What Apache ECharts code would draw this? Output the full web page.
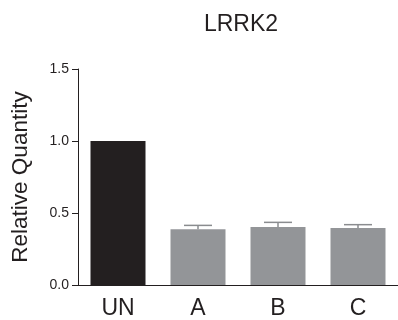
<!DOCTYPE html>
<html>
<head>
<meta charset="utf-8">
<script src="https://cdn.jsdelivr.net/npm/echarts@6/dist/echarts.min.js"></script>
<style>
  html, body { margin: 0; padding: 0; background: #ffffff; }
  #chart { width: 398px; height: 320px; }
</style>
</head>
<body>
<div id="chart"></div>
<script>
// Relative quantity of LRRK2 per condition (mean and upper error)
const categories = ['UN', 'A', 'B', 'C'];
const means = [1.0, 0.388, 0.403, 0.396];
const errors = [0, 0.026, 0.032, 0.023];
const yTicks = [0, 0.5, 1.0, 1.5];
const chartTitle = 'LRRK2';

const FONT = '"Liberation Sans", Arial, Helvetica, sans-serif';
const INK = '#231f20';
const BAR_DARK = '#231f20';
const BAR_GRAY = '#939598';
const ERR_COLOR = '#8a8c8f';

const chart = echarts.init(document.getElementById('chart'), null, { renderer: 'canvas' });

const errorData = means.map((m, i) => [i, m, m + errors[i]]);

chart.setOption({
  animation: false,
  backgroundColor: '#ffffff',
  graphic: [
    {
      type: 'text',
      x: 241,
      y: 25,
      style: {
        text: chartTitle,
        fontFamily: FONT,
        fontSize: 23,
        fill: INK,
        align: 'center',
        verticalAlign: 'middle'
      }
    }
  ],
  grid: { left: 78, right: -6.8, top: 69, bottom: 34.5, containLabel: false },
  xAxis: {
    type: 'category',
    data: categories,
    axisLine: { show: true, lineStyle: { color: INK, width: 1 } },
    axisTick: { show: false },
    axisLabel: { fontFamily: FONT, fontSize: 23, color: INK, margin: 12 }
  },
  yAxis: {
    type: 'value',
    min: yTicks[0],
    max: yTicks[yTicks.length - 1],
    interval: 0.5,
    name: 'Relative Quantity',
    nameLocation: 'middle',
    nameGap: 46,
    nameRotate: 90,
    nameTextStyle: { fontFamily: FONT, fontSize: 22.5, color: INK },
    splitLine: { show: false },
    axisLine: { show: true, lineStyle: { color: INK, width: 1 } },
    axisTick: { show: true, inside: false, length: 6, lineStyle: { color: INK, width: 1 } },
    axisLabel: {
      fontFamily: FONT, fontSize: 14, color: INK, margin: 9,
      formatter: v => v.toFixed(1)
    }
  },
  series: [
    {
      type: 'bar',
      data: means,
      barWidth: 55,
      itemStyle: {
        color: p => (p.dataIndex === 0 ? BAR_DARK : BAR_GRAY)
      },
      z: 2
    },
    {
      type: 'custom',
      data: errorData,
      z: 3,
      renderItem: (params, api) => {
        const idx = api.value(0);
        const lo = api.coord([idx, api.value(1)]);
        const hi = api.coord([idx, api.value(2)]);
        if (Math.abs(lo[1] - hi[1]) < 0.5) return null;
        const half = 14;
        const style = { stroke: ERR_COLOR, lineWidth: 1.5, fill: null };
        return {
          type: 'group',
          children: [
            { type: 'line', shape: { x1: hi[0], y1: lo[1], x2: hi[0], y2: hi[1] }, style },
            { type: 'line', shape: { x1: hi[0] - half, y1: hi[1], x2: hi[0] + half, y2: hi[1] }, style }
          ]
        };
      }
    }
  ]
});
</script>
</body>
</html>
